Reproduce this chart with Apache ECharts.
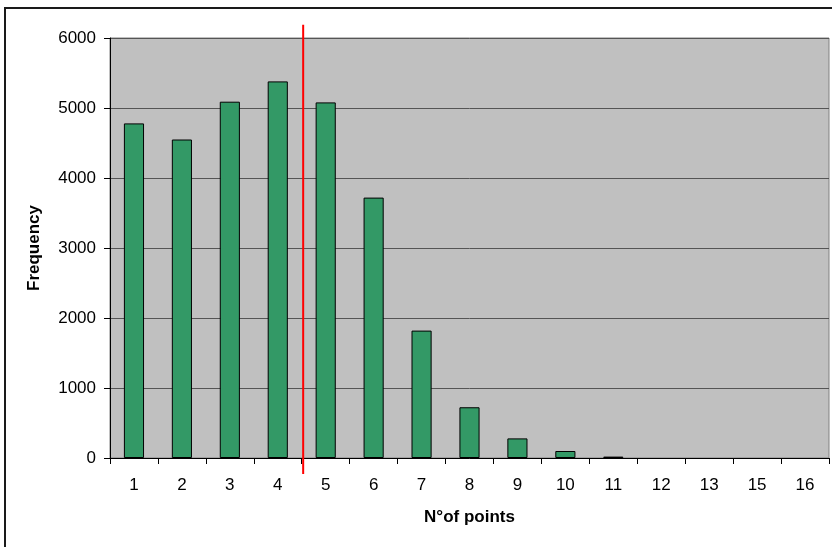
<!DOCTYPE html>
<html>
<head>
<meta charset="utf-8">
<script src="https://cdn.jsdelivr.net/npm/echarts@6/dist/echarts.min.js"></script>
<style>
html,body{margin:0;padding:0;background:#fff;}
#chart{width:832px;height:547px;}
</style>
</head>
<body>
<div id="chart"></div>
<script>
// Data
var categories = ['1','2','3','4','5','6','7','8','9','10','11','12','13','15','16'];
var frequency = [4780, 4550, 5090, 5380, 5080, 3720, 1820, 725, 280, 100, 20, 0, 0, 0, 0];
var yTicks = [0, 1000, 2000, 3000, 4000, 5000, 6000];
// Threshold marker (between categories 4 and 5), in category units on a hidden value axis
var thresholdX = 4.03;
var thresholdSpan = [6190, -230];

var chart = echarts.init(document.getElementById('chart'), null, {renderer: 'canvas'});
var font = 'Arial, "Liberation Sans", sans-serif';

var barData = frequency.map(function (v) {
  return {value: v, itemStyle: {borderWidth: v === 0 ? 0 : 1}};
});

var option = {
  animation: false,
  backgroundColor: '#ffffff',
  graphic: [{
    type: 'rect',
    shape: {x: 5, y: 8, width: 900, height: 600},
    style: {fill: 'none', stroke: '#1a1a1a', lineWidth: 2},
    silent: true,
    z: 100
  }],
  grid: {
    left: 110, right: 3, top: 38, bottom: 89,
    show: true,
    backgroundColor: '#c0c0c0',
    borderColor: '#808080',
    borderWidth: 1
  },
  xAxis: [{
    type: 'category',
    data: categories,
    boundaryGap: true,
    name: 'N°of points',
    nameLocation: 'middle',
    nameGap: 51,
    nameTextStyle: {fontFamily: font, fontSize: 17, fontWeight: 'bold', color: '#000'},
    axisLine: {lineStyle: {color: '#000', width: 1}},
    axisTick: {show: true, alignWithLabel: false, length: 6, lineStyle: {color: '#000'}},
    axisLabel: {fontFamily: font, fontSize: 17, color: '#000', margin: 19, interval: 0},
    splitLine: {show: false}
  }, {
    type: 'value',
    min: 0, max: categories.length,
    show: false
  }],
  yAxis: {
    type: 'value',
    min: yTicks[0], max: yTicks[yTicks.length - 1], interval: 1000,
    name: 'Frequency',
    nameLocation: 'middle',
    nameRotate: 90,
    nameGap: 67,
    nameTextStyle: {fontFamily: font, fontSize: 17, fontWeight: 'bold', color: '#000'},
    axisLine: {show: true, lineStyle: {color: '#000', width: 1}},
    axisTick: {show: true, length: 6, lineStyle: {color: '#000'}},
    axisLabel: {fontFamily: font, fontSize: 17, color: '#000', margin: 14,
      formatter: function (v) { return String(v); }},
    splitLine: {show: true, lineStyle: {color: '#555', width: 1}}
  },
  series: [{
    type: 'bar',
    data: barData,
    barWidth: '42%',
    itemStyle: {color: '#339966', borderColor: '#000', borderWidth: 1}
  }, {
    type: 'line',
    xAxisIndex: 1,
    data: [[thresholdX, thresholdSpan[0]], [thresholdX, thresholdSpan[1]]],
    clip: false,
    symbol: 'none',
    silent: true,
    lineStyle: {color: '#ff0000', width: 2},
    z: 10
  }]
};
chart.setOption(option);
</script>
</body>
</html>
